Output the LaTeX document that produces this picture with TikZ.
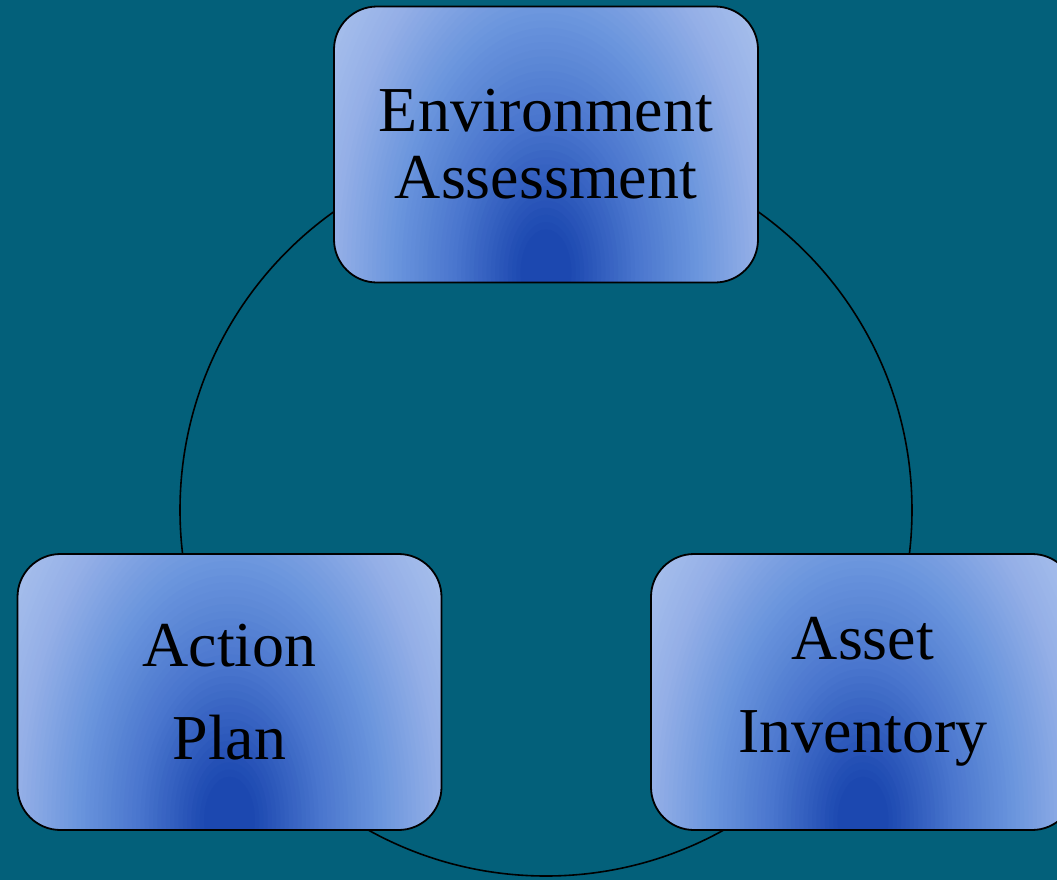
\documentclass[tikz,border=0pt]{standalone}
\usepackage{fontspec}
\setmainfont{Liberation Serif}
\usepackage{tikz}
\usetikzlibrary{shapes,positioning}
\definecolor{seabg}{HTML}{03607A}
\definecolor{cardA}{HTML}{1C48B0}
\definecolor{cardB}{HTML}{4A76CE}
\definecolor{cardC}{HTML}{6A95DD}
\definecolor{cardD}{HTML}{94AFE7}
\definecolor{cardE}{HTML}{A8C0EC}
% colour of the card gradient at distance #1
\newcommand\cardtint[1]{%
  \ifnum#1<6 \colorlet{tint}{cardA}%
  \else\ifnum#1<22 \pgfmathtruncatemacro\p{100*(#1-6)/16}\colorlet{tint}{cardB!\p!cardA}%
  \else\ifnum#1<36 \pgfmathtruncatemacro\p{100*(#1-22)/14}\colorlet{tint}{cardC!\p!cardB}%
  \else\ifnum#1<50 \pgfmathtruncatemacro\p{100*(#1-36)/14}\colorlet{tint}{cardD!\p!cardC}%
  \else \pgfmathtruncatemacro\p{min(100,100*(#1-50)/12)}\colorlet{tint}{cardE!\p!cardD}\fi\fi\fi\fi}
\tikzstyle{card} = [rectangle, rounded corners=21.5pt, draw=black, line width=0.9pt, minimum width=212pt, minimum height=138pt, align=center, text=black, fill=cardE,
  path picture={\foreach \d in {66,65,...,1} {\cardtint{\d}
    \fill[tint] ([yshift=5pt]path picture bounding box.south) ellipse [x radius=\d*2.12pt, y radius=\d*3.6pt];}}]
\tikzstyle{ring} = [draw=black, line width=0.8pt]

\begin{document}
\begin{tikzpicture}[x=0.5pt,y=-0.5pt]
  \fill[seabg] (0,0) rectangle (1057,880);
  \useasboundingbox (0,0) rectangle (1057,880);
  \clip (0,0) rectangle (1057,880);
  \coordinate (hub) at (546,510);
  \draw[ring] (hub) circle [radius=183pt];
  \node [card, font=\fontsize{32}{33.5}\selectfont] (envassess) at (546,144.5) {Environment\\Assessment};
  \node [card, font=\fontsize{32}{46.5}\selectfont] (actplan) at (229.5,692) {Action\\Plan};
  \node [card, font=\fontsize{32}{46.5}\selectfont] (assetinv) at (863,692) {Asset\\Inventory};
\end{tikzpicture}
\end{document}
